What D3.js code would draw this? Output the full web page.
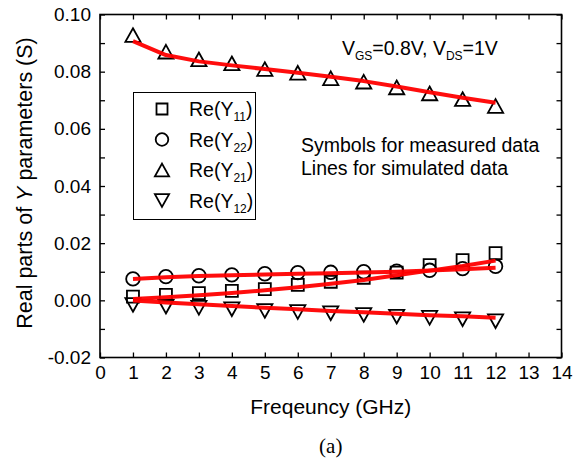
<!DOCTYPE html>
<html>
<head>
<meta charset="utf-8">
<script src="https://cdn.jsdelivr.net/npm/d3@7"></script>
<style>
  body { margin: 0; background: #fff; }
  text { font-family: "Liberation Sans", Arial, sans-serif; fill: #000; }
</style>
</head>
<body>
<div id="chart"></div>
<script>
// frequency points (GHz)
const freq = [1, 2, 3, 4, 5, 6, 7, 8, 9, 10, 11, 12];

// measured (symbols)
const measY11 = [0.0013, 0.0019, 0.0025, 0.0033, 0.0039, 0.0054, 0.0065, 0.0079, 0.0097, 0.0123, 0.0141, 0.0165];
const measY22 = [0.0075, 0.0083, 0.0086, 0.0089, 0.0093, 0.0097, 0.0098, 0.0100, 0.0102, 0.0105, 0.0111, 0.0119];
const measY21 = [0.0928, 0.0870, 0.0843, 0.0829, 0.0809, 0.0796, 0.0777, 0.0765, 0.0745, 0.0724, 0.0704, 0.0680];
const measY12 = [-0.0016, -0.0022, -0.0026, -0.0031, -0.0037, -0.0041, -0.0045, -0.0051, -0.0057, -0.0061, -0.0066, -0.0073];

// simulated (lines)
const simY11 = [0.0005, 0.0011, 0.0018, 0.0026, 0.0035, 0.0046, 0.0058, 0.0071, 0.0088, 0.0104, 0.0120, 0.0139];
const simY22 = [0.0075, 0.0081, 0.0085, 0.0088, 0.0090, 0.0093, 0.0095, 0.0097, 0.0100, 0.0104, 0.0109, 0.0114];
const simY21 = [0.0907, 0.0858, 0.0836, 0.0822, 0.0809, 0.0796, 0.0782, 0.0767, 0.0748, 0.0728, 0.0709, 0.0691];
const simY12 = [-0.0001, -0.0008, -0.0014, -0.0020, -0.0026, -0.0031, -0.0037, -0.0042, -0.0047, -0.0052, -0.0056, -0.0061];

const seriesNames = ["11", "22", "21", "12"];
const seriesSymbols = ["square", "circle", "triangle", "triangleDown"];
const xTicks = [0, 1, 2, 3, 4, 5, 6, 7, 8, 9, 10, 11, 12, 13, 14];
const yTicks = [-0.02, -0.01, 0.00, 0.01, 0.02, 0.03, 0.04, 0.05, 0.06, 0.07, 0.08, 0.09, 0.10];

const W = 579, H = 459;
const margin = { top: 14.5, right: 17.5, bottom: 101.5, left: 100 };
const width = W - margin.left - margin.right;
const height = H - margin.top - margin.bottom;

const svg = d3.select("#chart")
  .append("svg")
  .attr("width", W)
  .attr("height", H);

const g = svg.append("g")
  .attr("transform", "translate(" + margin.left + "," + margin.top + ")");

const xScale = d3.scaleLinear().domain([0, 14]).range([0, width]);
const yScale = d3.scaleLinear().domain([-0.02, 0.10]).range([height, 0]);

const fmtY = (v, i) => (i % 2 === 0 ? v.toFixed(2) : "");

// axes with inward ticks
g.append("g")
  .attr("class", "axis")
  .attr("transform", "translate(0," + height + ")")
  .call(d3.axisBottom(xScale).tickValues(xTicks).tickSizeInner(-5).tickSizeOuter(0).tickPadding(8).tickFormat(d3.format("d")));

g.append("g")
  .attr("class", "axis")
  .call(d3.axisTop(xScale).tickValues(xTicks).tickSizeInner(-5).tickSizeOuter(0).tickFormat(""));

g.append("g")
  .attr("class", "axis")
  .call(d3.axisLeft(yScale).tickValues(yTicks).tickSizeInner(-5).tickSizeOuter(0).tickPadding(9).tickFormat(fmtY));

g.append("g")
  .attr("class", "axis")
  .attr("transform", "translate(" + width + ",0)")
  .call(d3.axisRight(yScale).tickValues(yTicks).tickSizeInner(-5).tickSizeOuter(0).tickFormat(""));

g.selectAll(".axis .domain").remove();
g.selectAll(".axis line").attr("stroke", "#000").attr("stroke-width", 1.3);
g.selectAll(".axis text")
  .attr("fill", "#000")
  .style("font-family", "\"Liberation Sans\", Arial, sans-serif")
  .style("font-size", "19px");

g.append("rect")
  .attr("x", 0)
  .attr("y", 0)
  .attr("width", width)
  .attr("height", height)
  .attr("fill", "none")
  .attr("stroke", "#000")
  .attr("stroke-width", 1.6);

// symbol paths, centred on their bounding box
function symbolPath(type, s) {
  if (type === "square") {
    return `M${-s},${-s}H${s}V${s}H${-s}Z`;
  }
  if (type === "circle") {
    return `M${s},0A${s},${s} 0 1,1 ${-s},0A${s},${s} 0 1,1 ${s},0Z`;
  }
  if (type === "triangle") {
    return `M0,${-s * 0.9}L${s},${s * 0.9}L${-s},${s * 0.9}Z`;
  }
  return `M0,${s * 0.9}L${s},${-s * 0.9}L${-s},${-s * 0.9}Z`;
}

const symbolSize = { square: 6, circle: 6.8, triangle: 7.6, triangleDown: 7.6 };

const measured = [measY11, measY22, measY21, measY12];
const simulated = [simY11, simY22, simY21, simY12];

measured.forEach(function(vals, k) {
  const type = seriesSymbols[k];
  g.append("g")
    .selectAll("path")
    .data(vals.map((v, i) => ({ f: freq[i], v: v })))
    .enter()
    .append("path")
    .attr("transform", d => "translate(" + xScale(d.f) + "," + yScale(d.v) + ")")
    .attr("d", symbolPath(type, symbolSize[type]))
    .attr("fill", "none")
    .attr("stroke", "#000")
    .attr("stroke-width", 1.8);
});

const line = d3.line()
  .x(d => xScale(d.f))
  .y(d => yScale(d.v));

simulated.forEach(function(vals) {
  g.append("path")
    .datum(vals.map((v, i) => ({ f: freq[i], v: v })))
    .attr("d", line)
    .attr("fill", "none")
    .attr("stroke", "#ff0000")
    .attr("stroke-width", 4)
    .attr("stroke-linejoin", "round")
    .attr("stroke-opacity", 0.95);
});

// legend
const legend = svg.append("g");
legend.append("rect")
  .attr("x", 133.5)
  .attr("y", 92.5)
  .attr("width", 122)
  .attr("height", 127)
  .attr("fill", "#fff")
  .attr("stroke", "#000")
  .attr("stroke-width", 1);

const legendRows = [109, 139.5, 170, 200.5];
seriesNames.forEach(function(name, k) {
  const type = seriesSymbols[k];
  const y = legendRows[k];
  legend.append("path")
    .attr("transform", "translate(162," + y + ")")
    .attr("d", symbolPath(type, symbolSize[type] - 0.5))
    .attr("fill", "none")
    .attr("stroke", "#000")
    .attr("stroke-width", 1.8);
  const t = legend.append("text")
    .attr("x", 189)
    .attr("y", y + 7)
    .style("font-size", "19.5px");
  t.append("tspan").text("Re(Y");
  t.append("tspan").attr("dy", 5).style("font-size", "12px").text(name);
  t.append("tspan").attr("dy", -5).text(")");
});

// annotations
const cond = svg.append("text")
  .attr("x", 342)
  .attr("y", 55)
  .style("font-size", "19.5px");
cond.append("tspan").text("V");
cond.append("tspan").attr("dy", 5).style("font-size", "12px").text("GS");
cond.append("tspan").attr("dy", -5).text("=0.8V, V");
cond.append("tspan").attr("dy", 5).style("font-size", "12px").text("DS");
cond.append("tspan").attr("dy", -5).text("=1V");

svg.append("text")
  .attr("x", 301)
  .attr("y", 152)
  .style("font-size", "19.5px")
  .text("Symbols for measured data");

svg.append("text")
  .attr("x", 301)
  .attr("y", 175)
  .style("font-size", "19.5px")
  .text("Lines for simulated data");

// axis titles
svg.append("text")
  .attr("x", margin.left + width / 2)
  .attr("y", 414)
  .attr("text-anchor", "middle")
  .style("font-size", "21px")
  .text("Freqeuncy (GHz)");

const yTitle = svg.append("text")
  .attr("transform", "translate(32," + (margin.top + height / 2 - 3) + ") rotate(-90)")
  .attr("text-anchor", "middle")
  .style("font-size", "21.5px");
yTitle.append("tspan").text("Real parts of ");
yTitle.append("tspan").style("font-style", "italic").text("Y");
yTitle.append("tspan").text(" parameters (S)");

svg.append("text")
  .attr("x", margin.left + width / 2)
  .attr("y", 453)
  .attr("text-anchor", "middle")
  .style("font-family", "\"Liberation Serif\", \"Times New Roman\", serif")
  .style("font-size", "21px")
  .text("(a)");
</script>
</body>
</html>
